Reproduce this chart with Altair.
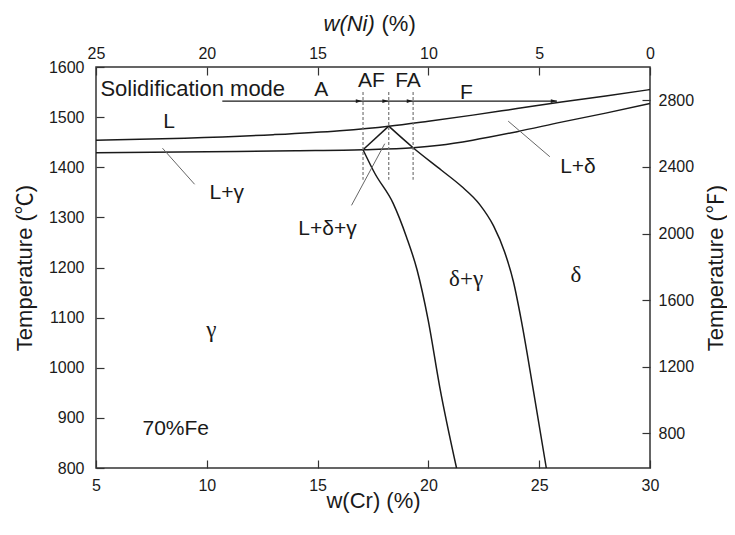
import altair as alt
import pandas as pd

# ---------------- data ----------------
# liquidus (upper line)
liq_cr = [5, 9, 13, 16, 18.21, 20, 22, 24, 26, 28, 30]
liq_t = [1454, 1458, 1465, 1473, 1482, 1492, 1504, 1517, 1530, 1542, 1555]
# lower line (solidus)
sol_cr = [5, 10, 14, 17.05, 19.31, 20.5, 22, 24, 26, 28, 30]
sol_t = [1429, 1431, 1433, 1435, 1439, 1444, 1454, 1471, 1490, 1508, 1527]
# left edge of the three-phase triangle
tri_cr = [17.05, 18.21]
tri_t = [1435, 1482]
# gamma / delta+gamma boundary
left_cr = [17.05, 17.58, 18.41, 19.01, 19.49, 19.99, 20.51, 21.27]
left_t = [1435, 1388, 1328, 1261, 1195, 1095, 962, 800]
# delta+gamma / delta boundary
right_cr = [18.21, 19.31, 20.59, 21.49, 22.31, 22.94, 23.44, 23.84, 24.19, 24.71, 25.32]
right_t = [1482, 1439, 1394, 1362, 1326, 1283, 1231, 1171, 1095, 962, 800]

# solidification mode boundaries (dashed)
mode_cr = [17.05, 18.21, 19.31]
mode_t_top = 1550
mode_t_bottom = 1375

# solidification mode arrow
arrow_cr = [10.7, 25.8]
arrow_t = 1532
head_cr = [17.0, 18.2, 19.3, 25.8]

# leader lines: label name, start (cr, t), end (cr, t)
lead_name = ["L+γ", "L+δ+γ", "L+δ"]
lead_cr1 = [8.0, 18.03, 23.6]
lead_t1 = [1438, 1447, 1492]
lead_cr2 = [9.45, 16.53, 25.48]
lead_t2 = [1366, 1324, 1421]

# region labels
sans_text = ["L", "L+γ", "L+δ+γ", "L+δ", "70%Fe"]
sans_cr = [8.3, 10.9, 15.45, 26.75, 8.6]
sans_t = [1491, 1348, 1276, 1400, 878]
serif_text = ["γ", "δ+γ", "δ"]
serif_cr = [10.2, 21.7, 26.66]
serif_t = [1075, 1177, 1186]

mode_text = ["A", "AF", "FA", "F"]
mode_text_cr = [15.17, 17.43, 19.08, 21.72]
mode_text_t = [1554, 1572, 1572, 1549]
title_text = "Solidification mode"
title_cr = 5.2
title_t = 1557

# axes
cr_ticks = [5, 10, 15, 20, 25, 30]
c_ticks = [800, 900, 1000, 1100, 1200, 1300, 1400, 1500, 1600]
f_ticks = [800, 1200, 1600, 2000, 2400, 2800]
c_domain = [800, 1600]
f_domain = [592, 3000]
cr_domain = [5, 30]

# ---------------- tables ----------------
rows = []
for name, xs_, ys_ in [("liq", liq_cr, liq_t), ("sol", sol_cr, sol_t),
                       ("tri", tri_cr, tri_t), ("left", left_cr, left_t),
                       ("right", right_cr, right_t)]:
    for i, (a, b) in enumerate(zip(xs_, ys_)):
        rows.append({"curve": name, "cr": a, "t": b, "ord": i})
curves = pd.DataFrame(rows)

dash_df = pd.DataFrame({"cr": mode_cr, "t1": [mode_t_top] * 3, "t2": [mode_t_bottom] * 3})
arrow_df = pd.DataFrame({"cr": [arrow_cr[0]], "cr2": [arrow_cr[1]], "t": [arrow_t]})
head_df = pd.DataFrame({"cr": head_cr, "t": [arrow_t] * len(head_cr)})
lead_df = pd.DataFrame({"name": lead_name, "cr": lead_cr1, "t": lead_t1, "cr2": lead_cr2, "t2": lead_t2})
sans_df = pd.DataFrame({"txt": sans_text, "cr": sans_cr, "t": sans_t})
serif_df = pd.DataFrame({"txt": serif_text, "cr": serif_cr, "t": serif_t})
mode_df = pd.DataFrame({"txt": mode_text, "cr": mode_text_cr, "t": mode_text_t})
mtitle_df = pd.DataFrame({"txt": [title_text], "cr": [title_cr], "t": [title_t]})
f_df = pd.DataFrame({"cr": [cr_domain[0]] * len(f_ticks), "f": f_ticks})

SANS = "Liberation Sans, Arial, Noto Sans CJK SC, sans-serif"
SERIF = "Liberation Serif, Times New Roman, serif"
INK = "#1a1a1a"
AX = "#333333"
W, H = 554, 401

xs = alt.Scale(domain=cr_domain, nice=False, zero=False)
ys = alt.Scale(domain=c_domain, nice=False, zero=False)

common_axis = dict(grid=False, domain=False, offset=-8, tickSize=8, tickColor=AX,
                   tickWidth=1.2, labelFont=SANS, labelFontSize=16, labelColor=INK,
                   titleFont=SANS, titleFontSize=22, titleColor=INK,
                   titleFontWeight="normal", labelOverlap=False, format="d")

x_bottom = alt.Axis(orient="bottom", values=cr_ticks, labelFlush=False, labelPadding=9,
                    title="w(Cr) (%)", titleX=W / 2, titleY=40, titleAlign="center",
                    titleBaseline="middle", **common_axis)
y_left = alt.Axis(orient="left", values=c_ticks, labelPadding=12,
                  title="Temperature (℃)", titleX=-80, titleY=H / 2, titleAngle=270,
                  titleAlign="center", titleBaseline="middle", **common_axis)
x_top = alt.Axis(orient="top", values=cr_ticks, labelFlush=False, labelPadding=6,
                 labelExpr="format(30 - datum.value, 'd')",
                 title="w(Ni)", titleFontStyle="italic", titleX=227, titleY=-52,
                 titleAlign="left", titleBaseline="middle", **common_axis)
y_right = alt.Axis(orient="right", values=f_ticks, labelPadding=8,
                   title="Temperature (℉)", titleX=73, titleY=H / 2, titleAngle=270,
                   titleAlign="center", titleBaseline="middle", **common_axis)
x_top2 = alt.Axis(orient="top", labels=False, ticks=False, domain=False, grid=False,
                  title="(%)", titleFont=SANS, titleFontSize=22, titleColor=INK,
                  titleFontWeight="normal", titleX=285, titleY=-44,
                  titleAlign="left", titleBaseline="middle")

lines = alt.Chart(curves).mark_line(color=INK, strokeWidth=1.5, interpolate="monotone").encode(
    x=alt.X("cr:Q", scale=xs, axis=x_bottom),
    y=alt.Y("t:Q", scale=ys, axis=y_left),
    detail="curve:N",
    order="ord:Q",
)

right_axis_layer = alt.Chart(f_df).mark_point(opacity=0).encode(
    x=alt.X("cr:Q", scale=xs, axis=x_top),
    y=alt.Y("f:Q", scale=alt.Scale(domain=f_domain, nice=False, zero=False), axis=y_right),
)

pct_layer = alt.Chart(f_df).mark_point(opacity=0).encode(
    x=alt.X("cr:Q", scale=xs, axis=x_top2),
    y=alt.Y("f:Q", scale=alt.Scale(domain=f_domain, nice=False, zero=False), axis=None),
)

dashes = alt.Chart(dash_df).mark_rule(color="#777777", strokeWidth=1.2, strokeDash=[3, 2]).encode(
    x=alt.X("cr:Q", scale=xs, axis=None),
    y=alt.Y("t1:Q", scale=ys, axis=None),
    y2="t2:Q",
)

arrow = alt.Chart(arrow_df).mark_rule(color=INK, strokeWidth=1.3).encode(
    x=alt.X("cr:Q", scale=xs, axis=None),
    x2="cr2:Q",
    y=alt.Y("t:Q", scale=ys, axis=None),
)

heads = alt.Chart(head_df).mark_point(
    shape="M -1 -0.3 L 0 0 L -1 0.3 Z", filled=True, color=INK, opacity=1, size=150
).encode(
    x=alt.X("cr:Q", scale=xs, axis=None),
    y=alt.Y("t:Q", scale=ys, axis=None),
)

leaders = alt.Chart(lead_df).mark_rule(color="#666666", strokeWidth=1).encode(
    x=alt.X("cr:Q", scale=xs, axis=None),
    x2="cr2:Q",
    y=alt.Y("t:Q", scale=ys, axis=None),
    y2="t2:Q",
)

sans_labels = alt.Chart(sans_df).mark_text(font=SANS, fontSize=21, color=INK, baseline="middle").encode(
    x=alt.X("cr:Q", scale=xs, axis=None),
    y=alt.Y("t:Q", scale=ys, axis=None),
    text="txt:N",
)

serif_labels = alt.Chart(serif_df).mark_text(font=SERIF, fontSize=23, color=INK, baseline="middle").encode(
    x=alt.X("cr:Q", scale=xs, axis=None),
    y=alt.Y("t:Q", scale=ys, axis=None),
    text="txt:N",
)

mode_labels = alt.Chart(mode_df).mark_text(font=SANS, fontSize=21, color=INK, baseline="middle").encode(
    x=alt.X("cr:Q", scale=xs, axis=None),
    y=alt.Y("t:Q", scale=ys, axis=None),
    text="txt:N",
)

mode_title = alt.Chart(mtitle_df).mark_text(font=SANS, fontSize=22, color=INK, baseline="middle", align="left").encode(
    x=alt.X("cr:Q", scale=xs, axis=None),
    y=alt.Y("t:Q", scale=ys, axis=None),
    text="txt:N",
)

chart = alt.layer(
    lines, right_axis_layer, pct_layer, dashes, arrow, heads, leaders,
    sans_labels, serif_labels, mode_labels, mode_title,
).resolve_scale(
    y="independent"
).resolve_axis(
    x="independent", y="independent"
).properties(
    width=W, height=H, autosize="none",
    padding={"left": 88, "top": 59, "right": 77, "bottom": 55},
    background="white",
).configure_view(
    stroke=AX, strokeWidth=1.5
)

chart.save("out.html", embed_options={"renderer": "svg", "actions": False})
